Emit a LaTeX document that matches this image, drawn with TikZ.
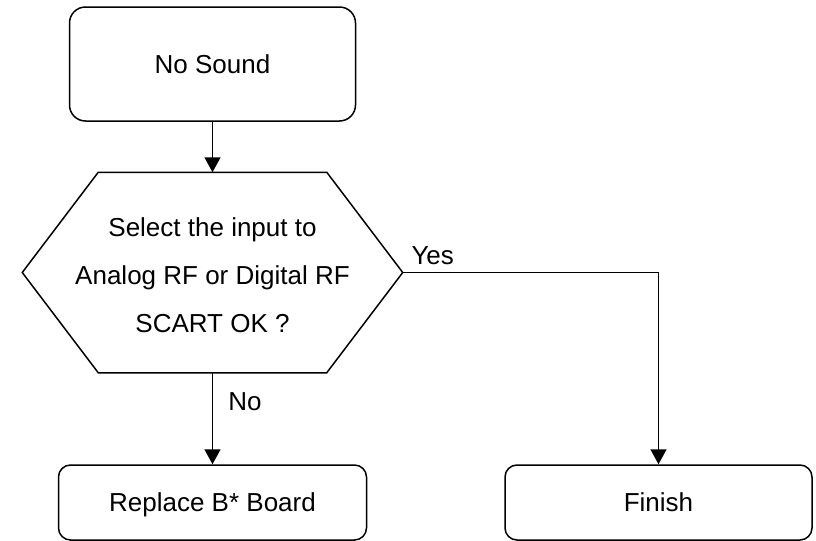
\documentclass[tikz,border=0pt]{standalone}
\usepackage{fontspec}
\setmainfont{Liberation Sans}
\usetikzlibrary{arrows.meta,positioning}

\begin{document}
\begin{tikzpicture}[
  x=0.5pt, y=-0.5pt,
  line width=0.75pt,
  box/.style={draw, rounded corners=6pt, align=center, minimum width=154pt,
    minimum height=37.5pt, text depth=0pt, font=\fontsize{13}{16}\selectfont},
  decide/.style={align=center, minimum width=189.5pt, minimum height=99.5pt,
    inner sep=0pt, font=\fontsize{13}{24}\selectfont},
  lbl/.style={font=\fontsize{13}{16}\selectfont, inner sep=0pt},
  arr/.style={-{Triangle[length=7.5pt, width=8pt]}}
]
\useasboundingbox (0,0) rectangle (816,541);
\node[box, rounded corners=8pt, minimum width=143pt, minimum height=57pt] (nosound) at (212.5,64) {No Sound};
\node[decide] (check) at (212.5,272.5) {\rule{0pt}{12.5pt}Select the input to\\Analog RF or Digital RF\\SCART OK ?};
\draw ([xshift=38pt]check.north west) -- ([xshift=-38pt]check.north east) -- (check.east)
  -- ([xshift=-38pt]check.south east) -- ([xshift=38pt]check.south west) -- (check.west) -- cycle;
\node[box] (replace) at (212.5,502.5) {Replace B* Board};
\node[box, minimum width=153.5pt] (finish) at (658.5,502.5) {Finish};
\draw[arr] (nosound) -- (check);
\draw[arr] (check) -- node[lbl, pos=0.32, right=7.5pt] (no) {No} (replace);
\draw[arr] (check.east) -| node[lbl, pos=0, anchor=base west, xshift=4pt, yshift=4pt] (yes) {Yes} (finish);
\end{tikzpicture}
\end{document}
